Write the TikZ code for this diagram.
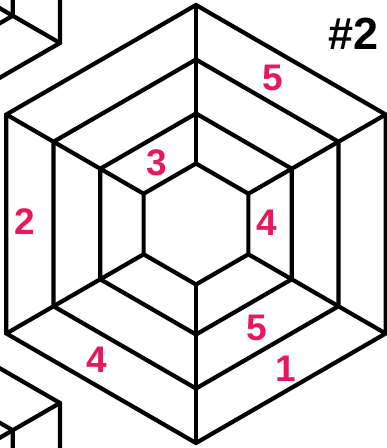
\documentclass[tikz,border=0pt]{standalone}
\usepackage{fontspec}
\setmainfont{Liberation Sans}
\definecolor{lab}{HTML}{E8185A}
\begin{document}
\begin{tikzpicture}[x=1pt,y=-1pt,line width=4.2pt,line join=miter,
  lbl/.style={text=lab,font=\fontsize{37}{37}\selectfont\bfseries,inner sep=0pt},
  ttl/.style={text=black,font=\fontsize{45}{45}\selectfont\bfseries,inner sep=0pt}]
\useasboundingbox (0,0) rectangle (387,448);
\begin{scope}
\clip (0,0) rectangle (387,448);
\foreach \cx/\cy in {196/224,-129.7/-66.5,-129.7/512.5}{
  \begin{scope}[shift={(\cx,\cy)}]
    \foreach \r in {219,164.5,110.5,60.5}
      \draw (30:\r) -- (90:\r) -- (150:\r) -- (210:\r) -- (270:\r) -- (330:\r) -- cycle;
    \foreach \a in {30,90,...,330}
      \draw (\a:60.5) -- (\a:219);
  \end{scope}}
\end{scope}
\node[ttl] (title) at (354,34) {\#2};
\node[lbl] (n5a) at (273,78) {5};
\node[lbl] (n3) at (157,163) {3};
\node[lbl] (n2) at (25,222) {2};
\node[lbl] (n4a) at (267,223) {4};
\node[lbl] (n5b) at (257,328) {5};
\node[lbl] (n1) at (286,369) {1};
\node[lbl] (n4b) at (97,360) {4};
\end{tikzpicture}
\end{document}
